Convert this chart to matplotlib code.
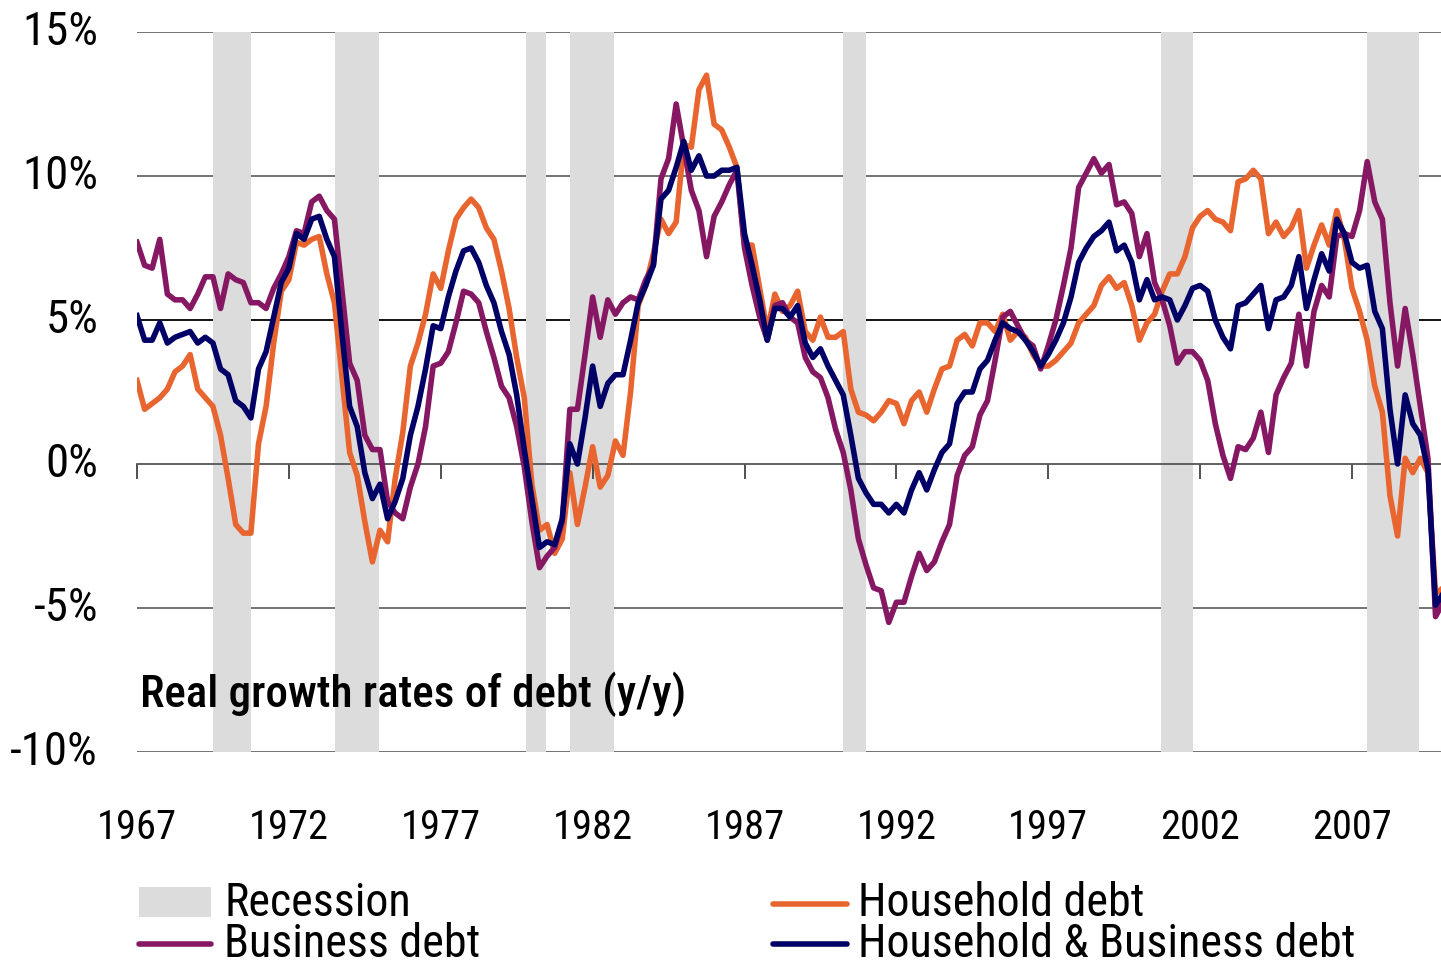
import numpy as np
import matplotlib
matplotlib.use("Agg")
import matplotlib.pyplot as plt
from matplotlib import font_manager as fm
from matplotlib.patches import Rectangle
from matplotlib.lines import Line2D

# quarterly real growth rates of debt (y/y, %), starting 1967Q1
household = [2.9, 1.9, 2.1, 2.3, 2.6, 3.2, 3.4, 3.8, 2.6, 2.3, 2.0, 1.0, -0.5, -2.1, -2.4, -2.4, 0.7, 2.0, 4.2, 6.0, 6.4, 7.7, 7.6,
             7.8, 7.9, 6.6, 5.6, 3.0, 0.4, -0.4, -2.0, -3.4, -2.3, -2.7, -0.5, 1.1, 3.4, 4.2, 5.2, 6.6, 6.1, 7.4, 8.5, 8.9,
             9.2, 8.9, 8.2, 7.8, 6.7, 5.4, 3.7, 2.3, -0.7, -2.3, -2.1, -3.1, -2.6, -0.3, -2.1, -0.8, 0.6, -0.8, -0.4, 0.8, 0.3, 2.5,
             5.5, 6.2, 7.3, 8.5, 8.0, 8.4, 11.1, 11.0, 13.0, 13.5, 11.8, 11.6, 11.0, 10.3, 7.6, 7.6, 6.1, 4.6, 5.9, 5.3, 5.5,
             6.0, 4.6, 4.3, 5.1, 4.4, 4.4, 4.6, 2.6, 1.8, 1.7, 1.5, 1.8, 2.2, 2.1, 1.4, 2.2, 2.5, 1.8, 2.6, 3.3, 3.4,
             4.3, 4.5, 4.1, 4.9, 4.9, 4.6, 5.2, 4.3, 4.6, 4.4, 3.8, 3.4, 3.4, 3.6, 3.9, 4.2, 4.9, 5.2, 5.5, 6.2, 6.5,
             6.1, 6.3, 5.5, 4.3, 4.9, 5.2, 6.0, 6.6, 6.6, 7.2, 8.2, 8.6, 8.8, 8.5, 8.4,
             8.1, 9.8, 9.9, 10.2, 9.9, 8.0, 8.4, 7.9, 8.2, 8.8, 6.8, 7.6, 8.3, 7.6, 8.8, 7.8, 6.1, 5.3, 4.3, 2.7, 1.8, -1.1,
             -2.5, 0.2, -0.3, 0.2, -0.3, -4.5, -4.3]

business = [7.7, 6.9, 6.8, 7.8, 5.9, 5.7, 5.7, 5.4, 5.9, 6.5, 6.5, 5.4, 6.6, 6.4, 6.3, 5.6, 5.6, 5.4, 6.1, 6.6, 7.2, 8.1, 8.0,
            9.1, 9.3, 8.8, 8.5, 6.0, 3.5, 2.9, 1.0, 0.5, 0.5, -1.3, -1.7, -1.9, -0.8, 0.0, 1.3, 3.4, 3.5, 3.9, 4.9, 6.0,
            5.9, 5.6, 4.6, 3.7, 2.7, 2.3, 1.3, -0.1, -2.0, -3.6, -3.2, -2.9, -2.0, 1.9, 1.9, 3.8, 5.8, 4.4, 5.7, 5.2, 5.6, 5.8,
            5.7, 6.4, 6.9, 9.9, 10.6, 12.5, 11.0, 9.5, 8.8, 7.2, 8.6, 9.1, 9.7, 10.2, 7.5, 6.2, 5.1, 4.3, 5.5, 5.6, 5.1,
            4.9, 3.7, 3.2, 3.0, 2.3, 1.2, 0.4, -0.9, -2.6, -3.5, -4.3, -4.4, -5.5, -4.8, -4.8, -3.9, -3.1, -3.7, -3.4, -2.7, -2.1,
            -0.4, 0.3, 0.6, 1.7, 2.2, 3.6, 5.1, 5.3, 4.8, 4.3, 4.1, 3.3, 4.1, 5.0, 6.2, 7.5, 9.6, 10.1, 10.6, 10.1, 10.4,
            9.0, 9.1, 8.7, 7.2, 8.0, 6.3, 5.7, 4.8, 3.5, 3.9, 3.9, 3.6, 2.9, 1.4, 0.3,
            -0.5, 0.6, 0.5, 0.9, 1.8, 0.4, 2.4, 3.0, 3.5, 5.2, 3.4, 5.3, 6.2, 5.8, 7.9, 8.0, 7.9, 8.8, 10.5, 9.1, 8.5, 5.6,
            3.4, 5.4, 3.8, 2.0, 0.2, -5.3, -4.8]

total = [5.15, 4.3, 4.3, 4.9, 4.2, 4.4, 4.5, 4.6, 4.2, 4.4, 4.2, 3.3, 3.1, 2.2, 2.0, 1.6, 3.3, 3.9, 5.1, 6.3, 6.8, 8.0, 7.8,
         8.5, 8.6, 7.8, 7.2, 4.5, 2.0, 1.3, -0.3, -1.2, -0.7, -1.9, -1.3, -0.5, 1.0, 2.0, 3.3, 4.8, 4.7, 5.8, 6.7, 7.4,
         7.5, 7.0, 6.2, 5.6, 4.6, 3.8, 2.4, 0.5, -1.2, -2.9, -2.7, -2.8, -1.9, 0.7, 0.0, 1.6, 3.4, 2.0, 2.8, 3.1, 3.1, 4.3,
         5.6, 6.2, 6.9, 9.2, 9.5, 10.3, 11.2, 10.2, 10.7, 10.0, 10.0, 10.2, 10.2, 10.3, 8.0, 6.9, 5.7, 4.3, 5.4, 5.4, 5.1,
         5.5, 4.2, 3.7, 4.0, 3.4, 2.9, 2.4, 1.0, -0.5, -1.0, -1.4, -1.4, -1.7, -1.4, -1.7, -0.9, -0.3, -0.9, -0.2, 0.4, 0.7,
         2.1, 2.5, 2.5, 3.3, 3.6, 4.3, 4.9, 4.7, 4.6, 4.3, 3.9, 3.4, 3.8, 4.3, 4.9, 5.8, 7.0, 7.5, 7.9, 8.1, 8.4,
         7.4, 7.6, 7.0, 5.7, 6.4, 5.7, 5.8, 5.7, 5.0, 5.5, 6.1, 6.2, 6.0, 5.0, 4.4,
         4.0, 5.5, 5.6, 5.9, 6.2, 4.7, 5.7, 5.8, 6.2, 7.2, 5.4, 6.4, 7.3, 6.7, 8.5, 8.0, 7.0, 6.8, 6.9, 5.3, 4.7, 1.9,
         0.0, 2.4, 1.4, 1.0, -0.2, -4.9, -4.5]

recession_start = [1969.5, 1973.52, 1979.81, 1981.26, 1990.24, 2000.71, 2007.49]
recession_end = [1970.75, 1974.97, 1980.46, 1982.7, 1991.0, 2001.77, 2009.21]

year_ticks = [1967, 1972, 1977, 1982, 1987, 1992, 1997, 2002, 2007]
pct_ticks = [15, 10, 5, 0, -5, -10]
pct_labels = ['15%', '10%', '5%', '0%', '-5%', '-10%']

quarters = 1967 + np.arange(len(total)) / 4.0

c_house = '#E8652F'
c_bus = '#851763'
c_total = '#000066'
c_rec = '#DCDCDC'
lw = 4.0


def stretch_of(f):
    s = f.stretch
    if isinstance(s, str):
        s = fm.stretch_dict.get(s, 500)
    if 'Narrow' in f.name or 'Condensed' in f.name:
        s = min(s, 300)
    return s


def weight_of(f):
    w = f.weight
    if isinstance(w, str):
        w = fm.weight_dict.get(w, 400)
    return w


def pick_font(weight):
    # look for a narrow / condensed sans face, closest to the reference look
    families = ['Liberation Sans Narrow', 'Arial Narrow', 'Roboto Condensed', 'Noto Sans',
                'Noto Sans Condensed', 'Roboto', 'Open Sans', 'Open Sans Condensed',
                'DejaVu Sans', 'DejaVu Sans Condensed', 'Liberation Sans']
    best = None
    for f in fm.fontManager.ttflist:
        if f.name not in families or f.style != 'normal':
            continue
        key = (abs(stretch_of(f) - 300), abs(weight_of(f) - weight), families.index(f.name))
        if best is None or key < best[0]:
            best = (key, f.fname)
    if best is None:
        return fm.FontProperties(family='DejaVu Sans')
    return fm.FontProperties(fname=best[1])


font_reg = pick_font(400)
font_title = pick_font(500)

W, H = 1441, 966
fig = plt.figure(figsize=(W / 100, H / 100), dpi=100)
renderer = fig.canvas.get_renderer()


def fit_size(s, prop, target_px):
    p = prop.copy()
    p.set_size(100)
    w, h, d = renderer.get_text_width_height_descent(s, p, ismath=False)
    return 100 * target_px / w


size_y = fit_size('15%', font_reg, 76)
size_x = fit_size('1967', font_reg, 80)
size_leg = fit_size('Household & Business debt', font_reg, 498)
size_title = fit_size('Real growth rates of debt (y/y)', font_title, 546)

ax = fig.add_axes([137 / W, 1 - 752 / H, (W - 137) / W, 720 / H])

for s, e in zip(recession_start, recession_end):
    ax.axvspan(s, e, color=c_rec, lw=0, zorder=1)

for v in pct_ticks:
    if v == 0:
        continue
    ax.axhline(v, color='black' if v == 5 else '#666666', lw=1.3, zorder=0.5)

ax.plot(quarters, household, color=c_house, lw=lw, solid_joinstyle='round', zorder=3)
ax.plot(quarters, business, color=c_bus, lw=lw, solid_joinstyle='round', zorder=4)
ax.plot(quarters, total, color=c_total, lw=lw, solid_joinstyle='round', zorder=5)

ax.set_xlim(1967, 1967 + (W - 137) / 30.375)
ax.set_ylim(-10, 15)

for side in ['top', 'right', 'left']:
    ax.spines[side].set_visible(False)
ax.spines['bottom'].set_position(('data', 0))
ax.spines['bottom'].set_color('#555555')
ax.spines['bottom'].set_linewidth(1.3)
ax.spines['bottom'].set_zorder(2)
ax.set_xticks(year_ticks)
ax.tick_params(axis='x', direction='out', length=11, width=1.2, color='#333333', labelbottom=False)

ax.set_yticks(pct_ticks)
ax.set_yticklabels(pct_labels, fontproperties=font_reg, fontsize=size_y)
ax.tick_params(axis='y', length=0, pad=28)
for lab in ax.get_yticklabels():
    lab.set_verticalalignment('center')

# year labels sit well below the plot, baseline ~88 px under the axes
for yr in year_ticks:
    ax.text(yr, -87 / 720, str(yr), transform=ax.get_xaxis_transform(), ha='center', va='baseline',
            fontproperties=font_reg, fontsize=size_x)

ax.text(0.002, 0.0625, 'Real growth rates of debt (y/y)', transform=ax.transAxes,
        fontproperties=font_title, fontsize=size_title, va='baseline', ha='left', zorder=6)


# legend drawn by hand
def fy(y):
    return 1 - y / H


fig.patches.append(Rectangle((139 / W, fy(917)), 72 / W, 30 / H, transform=fig.transFigure,
                             color=c_rec, lw=0))
fig.text(224 / W, fy(916), 'Recession', fontproperties=font_reg, fontsize=size_leg, va='baseline')
fig.lines.append(Line2D([139 / W, 211 / W], [fy(944), fy(944)], transform=fig.transFigure,
                        color=c_bus, lw=lw, solid_capstyle='round'))
fig.text(224 / W, fy(957), 'Business debt', fontproperties=font_reg, fontsize=size_leg, va='baseline')
fig.lines.append(Line2D([773 / W, 847 / W], [fy(904), fy(904)], transform=fig.transFigure,
                        color=c_house, lw=lw, solid_capstyle='round'))
fig.text(858 / W, fy(916), 'Household debt', fontproperties=font_reg, fontsize=size_leg, va='baseline')
fig.lines.append(Line2D([773 / W, 847 / W], [fy(944), fy(944)], transform=fig.transFigure,
                        color=c_total, lw=lw, solid_capstyle='round'))
fig.text(858 / W, fy(957), 'Household & Business debt', fontproperties=font_reg, fontsize=size_leg,
         va='baseline')

fig.savefig('out.png', dpi=100)
plt.close(fig)
